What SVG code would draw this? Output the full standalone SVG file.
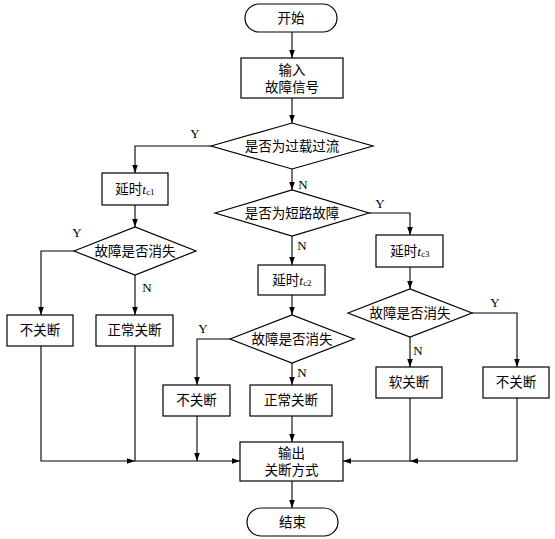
<svg xmlns="http://www.w3.org/2000/svg" width="555" height="539" viewBox="0 0 555 539">
<defs>
<style>
.s{fill:#fff;stroke:#000;stroke-width:1.2}
.t{font-family:"Liberation Serif","Noto Sans CJK SC",serif;font-size:13.5px;fill:#000;text-anchor:middle;dominant-baseline:central}
.l{font-family:"Liberation Serif",serif;font-size:13px;fill:#000;text-anchor:middle;dominant-baseline:central}
.c{fill:none;stroke:#000;stroke-width:1.1}
.sub{font-size:9px}
</style>
<marker id="a" viewBox="0 0 10 10" refX="10" refY="5" markerWidth="8" markerHeight="8" markerUnits="userSpaceOnUse" orient="auto">
<path d="M0,1.5 L10,5 L0,8.5 z" fill="#000"/>
</marker>
</defs>
<rect width="555" height="539" fill="#fff"/>
<g id="connectors" class="c">
<path d="M292,32 V58" marker-end="url(#a)"/>
<path d="M292,98 V123" marker-end="url(#a)"/>
<path d="M211,146 H135 V173" marker-end="url(#a)"/>
<path d="M292,169 V190" marker-end="url(#a)"/>
<path d="M369,213 H410 V235" marker-end="url(#a)"/>
<path d="M292,236 V265" marker-end="url(#a)"/>
<path d="M292,295 V315" marker-end="url(#a)"/>
<path d="M230,339 H197 V385" marker-end="url(#a)"/>
<path d="M292,363 V385" marker-end="url(#a)"/>
<path d="M135,205 V227" marker-end="url(#a)"/>
<path d="M74,251 H41 V315" marker-end="url(#a)"/>
<path d="M135,275 V315" marker-end="url(#a)"/>
<path d="M410,267 V289" marker-end="url(#a)"/>
<path d="M472,313 H517 V367" marker-end="url(#a)"/>
<path d="M410,337 V367" marker-end="url(#a)"/>
<path d="M41,346 V461 H135" marker-end="url(#a)"/>
<path d="M135,346 V461 H240" marker-end="url(#a)"/>
<path d="M197,416 V461" marker-end="url(#a)"/>
<path d="M292,416 V442" marker-end="url(#a)"/>
<path d="M517,398 V461 H410" marker-end="url(#a)"/>
<path d="M410,398 V461 H343" marker-end="url(#a)"/>
<path d="M292,481 V508" marker-end="url(#a)"/>
</g>
<g id="labels">
<text class="l" x="195" y="133">Y</text>
<text class="l" x="303" y="184">N</text>
<text class="l" x="380" y="203">Y</text>
<text class="l" x="302" y="245">N</text>
<text class="l" x="203" y="328">Y</text>
<text class="l" x="302" y="372">N</text>
<text class="l" x="77" y="232">Y</text>
<text class="l" x="147" y="287">N</text>
<text class="l" x="495" y="302">Y</text>
<text class="l" x="418" y="350">N</text>
</g>
<g id="start"><rect class="s" x="245" y="4" width="92" height="28" rx="14"/><text class="t" x="291" y="18">开始</text></g>
<g id="input"><rect class="s" x="241" y="58" width="102" height="40"/><text class="t" x="292" y="70">输入</text><text class="t" x="292" y="87">故障信号</text></g>
<g id="d1"><polygon class="s" points="211,146 292,123 373,146 292,169"/><text class="t" x="292" y="146">是否为过载过流</text></g>
<g id="d2"><polygon class="s" points="215,213 292,190 369,213 292,236"/><text class="t" x="292" y="213">是否为短路故障</text></g>
<g id="tc1"><rect class="s" x="102" y="173" width="66" height="32"/><text class="t" x="135" y="189">延时<tspan font-style="italic">t</tspan><tspan class="sub" dy="3">c1</tspan></text></g>
<g id="tc2"><rect class="s" x="258" y="265" width="67" height="30"/><text class="t" x="292" y="280">延时<tspan font-style="italic">t</tspan><tspan class="sub" dy="3">c2</tspan></text></g>
<g id="tc3"><rect class="s" x="376" y="235" width="67" height="32"/><text class="t" x="410" y="251">延时<tspan font-style="italic">t</tspan><tspan class="sub" dy="3">c3</tspan></text></g>
<g id="d4"><polygon class="s" points="74,251 135,227 196,251 135,275"/><text class="t" x="135" y="251">故障是否消失</text></g>
<g id="d3"><polygon class="s" points="230,339 292,315 354,339 292,363"/><text class="t" x="292" y="339">故障是否消失</text></g>
<g id="d5"><polygon class="s" points="348,313 410,289 472,313 410,337"/><text class="t" x="410" y="313">故障是否消失</text></g>
<g id="b_left_no"><rect class="s" x="7" y="315" width="66" height="31"/><text class="t" x="40" y="330.5">不关断</text></g>
<g id="b_left_normal"><rect class="s" x="96" y="315" width="77" height="31"/><text class="t" x="134.5" y="330.5">正常关断</text></g>
<g id="b_mid_no"><rect class="s" x="163" y="385" width="67" height="31"/><text class="t" x="196.5" y="400.5">不关断</text></g>
<g id="b_mid_normal"><rect class="s" x="250" y="385" width="82" height="31"/><text class="t" x="291" y="400.5">正常关断</text></g>
<g id="b_soft"><rect class="s" x="376" y="367" width="66" height="31"/><text class="t" x="409" y="382.5">软关断</text></g>
<g id="b_right_no"><rect class="s" x="483" y="367" width="66" height="31"/><text class="t" x="516" y="382.5">不关断</text></g>
<g id="output"><rect class="s" x="240" y="442" width="103" height="39"/><text class="t" x="291.5" y="453">输出</text><text class="t" x="291.5" y="470">关断方式</text></g>
<g id="end"><rect class="s" x="247" y="508" width="91" height="28" rx="14"/><text class="t" x="292.5" y="522">结束</text></g>
</svg>
